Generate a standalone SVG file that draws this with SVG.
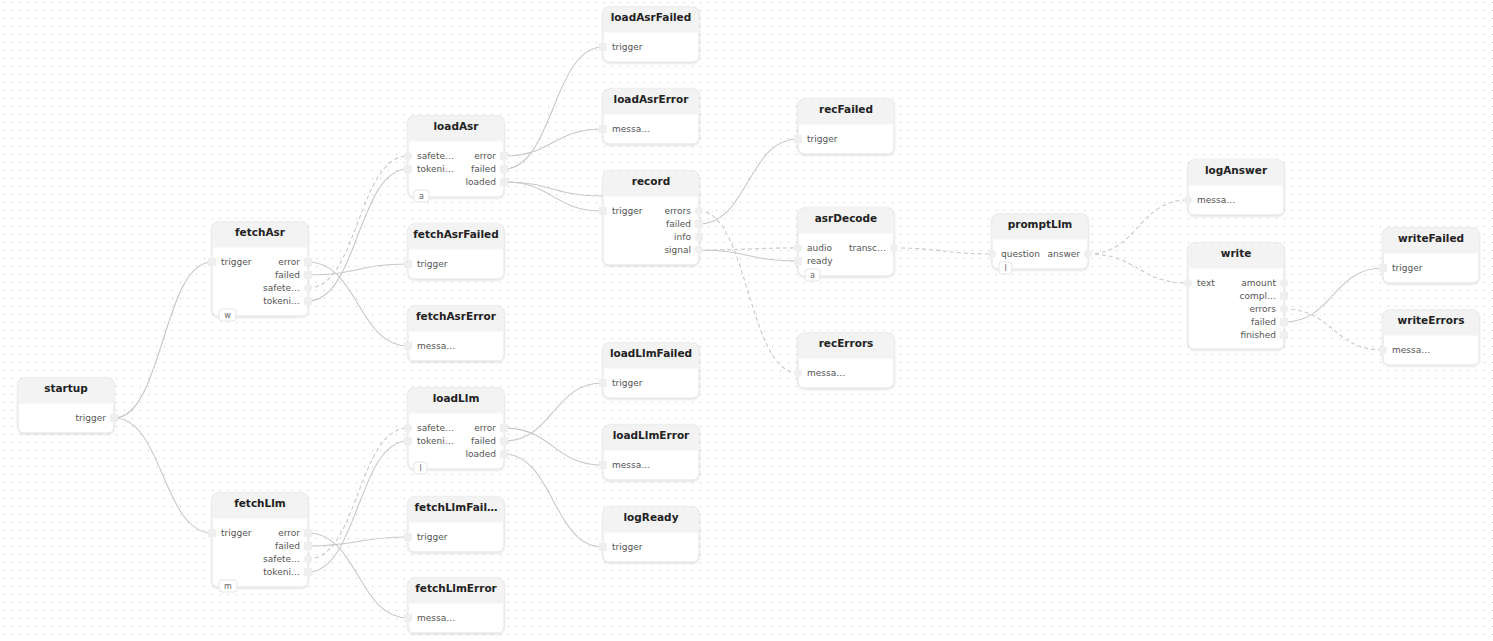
<svg xmlns="http://www.w3.org/2000/svg" width="1493" height="641" viewBox="0 0 1493 641">
<defs>
<pattern id="dots" x="0" y="0" width="8" height="8" patternUnits="userSpaceOnUse">
<rect x="4" y="2" width="1" height="1" fill="#c2c2c2"/>
</pattern>
<filter id="sh" x="-10%" y="-10%" width="120%" height="130%">
<feDropShadow dx="0" dy="1" stdDeviation="1.2" flood-color="#000" flood-opacity="0.13"/>
</filter>
<style>
.box{fill:#fff;stroke:#e2e2e2;stroke-width:1;filter:url(#sh)}
.hdr{fill:#f3f3f3}
.t{font-family:"DejaVu Sans",sans-serif;font-weight:bold;font-size:10.5px;fill:#222;text-anchor:middle}
.ll{font-family:"DejaVu Sans",sans-serif;font-size:9px;fill:#555}
.lr{font-family:"DejaVu Sans",sans-serif;font-size:9px;fill:#555;text-anchor:end}
.p{fill:#efefef}
.bd{fill:#fff;stroke:#e6e6e6;stroke-width:1}
.bt{font-family:"DejaVu Sans",sans-serif;font-size:8px;fill:#666;text-anchor:middle}
.e{fill:none;stroke:#c8c8c8;stroke-width:1.1}
.d{stroke-dasharray:4 3}
</style>
</defs>
<rect width="1493" height="641" fill="#fff"/>
<rect width="1493" height="641" fill="url(#dots)"/>

<g id="connectors">
<path class="e" d="M114,418 C163,418 163,262 212,262"/>
<path class="e" d="M114,418 C163,418 163,533 212,533"/>
<path class="e" d="M308,262 C358,262 358,346 408,346"/>
<path class="e" d="M308,275 C358,275 358,264 408,264"/>
<path class="e d" d="M308,288 C358,288 358,156 408,156"/>
<path class="e" d="M308,301 C358,301 358,169 408,169"/>
<path class="e" d="M308,533 C358,533 358,618 408,618"/>
<path class="e" d="M308,546 C358,546 358,537 408,537"/>
<path class="e d" d="M308,559 C358,559 358,428 408,428"/>
<path class="e" d="M308,572 C358,572 358,441 408,441"/>
<path class="e" d="M504,156 C553,156 553,129 603,129"/>
<path class="e" d="M504,169 C553,169 553,47 603,47"/>
<path class="e" d="M504,182 C553,182 553,211 603,211"/>
<path class="e" d="M504,182 C553,182 553,196 603,196"/>
<path class="e" d="M504,428 C553,428 553,465 603,465"/>
<path class="e" d="M504,441 C553,441 553,383 603,383"/>
<path class="e" d="M504,454 C553,454 553,547 603,547"/>
<path class="e d" d="M699,211 C748,211 748,373 798,373"/>
<path class="e" d="M699,224 C748,224 748,139 798,139"/>
<path class="e d" d="M699,250 C748,250 748,248 798,248"/>
<path class="e" d="M699,250 C748,250 748,261 798,261"/>
<path class="e d" d="M894,248 C943,248 943,254 992,254"/>
<path class="e d" d="M1088,254 C1138,254 1138,200 1188,200"/>
<path class="e d" d="M1088,254 C1138,254 1138,283 1188,283"/>
<path class="e d" d="M1284,309 C1333,309 1333,350 1383,350"/>
<path class="e" d="M1284,322 C1333,322 1333,268 1383,268"/>
</g>

<g id="n-startup" transform="translate(18,378)">
<rect class="box" width="96" height="55" rx="6"/>
<path class="hdr" d="M0.5,25.5 V6 A5.5,5.5 0 0 1 6,0.5 H90 A5.5,5.5 0 0 1 95.5,6 V25.5 Z"/>
<text class="t" x="48" y="14">startup</text>
<rect class="p" x="92" y="36" width="8" height="8"/><text class="lr" x="88" y="43">trigger</text>
</g>

<g id="n-fetchAsr" transform="translate(212,222)">
<rect class="box" width="96" height="94" rx="6"/>
<path class="hdr" d="M0.5,25.5 V6 A5.5,5.5 0 0 1 6,0.5 H90 A5.5,5.5 0 0 1 95.5,6 V25.5 Z"/>
<text class="t" x="48" y="14">fetchAsr</text>
<rect class="p" x="-4" y="36" width="8" height="8"/><text class="ll" x="9" y="43">trigger</text>
<rect class="p" x="92" y="36" width="8" height="8"/><text class="lr" x="88" y="43">error</text>
<rect class="p" x="92" y="49" width="8" height="8"/><text class="lr" x="88" y="56">failed</text>
<circle class="p" cx="96" cy="66" r="4"/><text class="lr" x="88" y="69">safete…</text>
<rect class="p" x="92" y="75" width="8" height="8"/><text class="lr" x="88" y="82">tokeni…</text>
<rect class="bd" x="7" y="87" width="17" height="12" rx="3"/><text class="bt" x="15.5" y="96">w</text>
</g>

<g id="n-fetchLlm" transform="translate(212,493)">
<rect class="box" width="96" height="94" rx="6"/>
<path class="hdr" d="M0.5,25.5 V6 A5.5,5.5 0 0 1 6,0.5 H90 A5.5,5.5 0 0 1 95.5,6 V25.5 Z"/>
<text class="t" x="48" y="14">fetchLlm</text>
<rect class="p" x="-4" y="36" width="8" height="8"/><text class="ll" x="9" y="43">trigger</text>
<rect class="p" x="92" y="36" width="8" height="8"/><text class="lr" x="88" y="43">error</text>
<rect class="p" x="92" y="49" width="8" height="8"/><text class="lr" x="88" y="56">failed</text>
<circle class="p" cx="96" cy="66" r="4"/><text class="lr" x="88" y="69">safete…</text>
<rect class="p" x="92" y="75" width="8" height="8"/><text class="lr" x="88" y="82">tokeni…</text>
<rect class="bd" x="7" y="87" width="18" height="12" rx="3"/><text class="bt" x="16" y="96">m</text>
</g>

<g id="n-loadAsr" transform="translate(408,116)">
<rect class="box" width="96" height="81" rx="6"/>
<path class="hdr" d="M0.5,25.5 V6 A5.5,5.5 0 0 1 6,0.5 H90 A5.5,5.5 0 0 1 95.5,6 V25.5 Z"/>
<text class="t" x="48" y="14">loadAsr</text>
<circle class="p" cx="0" cy="40" r="4"/><text class="ll" x="9" y="43">safete…</text>
<rect class="p" x="-4" y="49" width="8" height="8"/><text class="ll" x="9" y="56">tokeni…</text>
<rect class="p" x="92" y="36" width="8" height="8"/><text class="lr" x="88" y="43">error</text>
<rect class="p" x="92" y="49" width="8" height="8"/><text class="lr" x="88" y="56">failed</text>
<rect class="p" x="92" y="62" width="8" height="8"/><text class="lr" x="88" y="69">loaded</text>
<rect class="bd" x="6" y="74" width="15" height="12" rx="3"/><text class="bt" x="13.5" y="83">a</text>
</g>

<g id="n-fetchAsrFailed" transform="translate(408,224)">
<rect class="box" width="96" height="55" rx="6"/>
<path class="hdr" d="M0.5,25.5 V6 A5.5,5.5 0 0 1 6,0.5 H90 A5.5,5.5 0 0 1 95.5,6 V25.5 Z"/>
<text class="t" x="48" y="14">fetchAsrFailed</text>
<rect class="p" x="-4" y="36" width="8" height="8"/><text class="ll" x="9" y="43">trigger</text>
</g>

<g id="n-fetchAsrError" transform="translate(408,306)">
<rect class="box" width="96" height="55" rx="6"/>
<path class="hdr" d="M0.5,25.5 V6 A5.5,5.5 0 0 1 6,0.5 H90 A5.5,5.5 0 0 1 95.5,6 V25.5 Z"/>
<text class="t" x="48" y="14">fetchAsrError</text>
<rect class="p" x="-4" y="36" width="8" height="8"/><text class="ll" x="9" y="43">messa…</text>
</g>

<g id="n-loadLlm" transform="translate(408,388)">
<rect class="box" width="96" height="81" rx="6"/>
<path class="hdr" d="M0.5,25.5 V6 A5.5,5.5 0 0 1 6,0.5 H90 A5.5,5.5 0 0 1 95.5,6 V25.5 Z"/>
<text class="t" x="48" y="14">loadLlm</text>
<circle class="p" cx="0" cy="40" r="4"/><text class="ll" x="9" y="43">safete…</text>
<rect class="p" x="-4" y="49" width="8" height="8"/><text class="ll" x="9" y="56">tokeni…</text>
<rect class="p" x="92" y="36" width="8" height="8"/><text class="lr" x="88" y="43">error</text>
<rect class="p" x="92" y="49" width="8" height="8"/><text class="lr" x="88" y="56">failed</text>
<rect class="p" x="92" y="62" width="8" height="8"/><text class="lr" x="88" y="69">loaded</text>
<rect class="bd" x="6" y="74" width="13" height="12" rx="3"/><text class="bt" x="12.5" y="83">l</text>
</g>

<g id="n-fetchLlmFailed" transform="translate(408,497)">
<rect class="box" width="96" height="55" rx="6"/>
<path class="hdr" d="M0.5,25.5 V6 A5.5,5.5 0 0 1 6,0.5 H90 A5.5,5.5 0 0 1 95.5,6 V25.5 Z"/>
<text class="t" x="48" y="14">fetchLlmFail…</text>
<rect class="p" x="-4" y="36" width="8" height="8"/><text class="ll" x="9" y="43">trigger</text>
</g>

<g id="n-fetchLlmError" transform="translate(408,578)">
<rect class="box" width="96" height="55" rx="6"/>
<path class="hdr" d="M0.5,25.5 V6 A5.5,5.5 0 0 1 6,0.5 H90 A5.5,5.5 0 0 1 95.5,6 V25.5 Z"/>
<text class="t" x="48" y="14">fetchLlmError</text>
<rect class="p" x="-4" y="36" width="8" height="8"/><text class="ll" x="9" y="43">messa…</text>
</g>

<g id="n-loadAsrFailed" transform="translate(603,7)">
<rect class="box" width="96" height="55" rx="6"/>
<path class="hdr" d="M0.5,25.5 V6 A5.5,5.5 0 0 1 6,0.5 H90 A5.5,5.5 0 0 1 95.5,6 V25.5 Z"/>
<text class="t" x="48" y="14">loadAsrFailed</text>
<rect class="p" x="-4" y="36" width="8" height="8"/><text class="ll" x="9" y="43">trigger</text>
</g>

<g id="n-loadAsrError" transform="translate(603,89)">
<rect class="box" width="96" height="55" rx="6"/>
<path class="hdr" d="M0.5,25.5 V6 A5.5,5.5 0 0 1 6,0.5 H90 A5.5,5.5 0 0 1 95.5,6 V25.5 Z"/>
<text class="t" x="48" y="14">loadAsrError</text>
<rect class="p" x="-4" y="36" width="8" height="8"/><text class="ll" x="9" y="43">messa…</text>
</g>

<g id="n-record" transform="translate(603,171)">
<rect class="box" width="96" height="94" rx="6"/>
<path class="hdr" d="M0.5,25.5 V6 A5.5,5.5 0 0 1 6,0.5 H90 A5.5,5.5 0 0 1 95.5,6 V25.5 Z"/>
<text class="t" x="48" y="14">record</text>
<rect class="p" x="-4" y="36" width="8" height="8"/><text class="ll" x="9" y="43">trigger</text>
<circle class="p" cx="96" cy="40" r="4"/><text class="lr" x="88" y="43">errors</text>
<rect class="p" x="92" y="49" width="8" height="8"/><text class="lr" x="88" y="56">failed</text>
<rect class="p" x="92" y="62" width="8" height="8"/><text class="lr" x="88" y="69">info</text>
<circle class="p" cx="96" cy="79" r="4"/><text class="lr" x="88" y="82">signal</text>
</g>

<g id="n-loadLlmFailed" transform="translate(603,343)">
<rect class="box" width="96" height="55" rx="6"/>
<path class="hdr" d="M0.5,25.5 V6 A5.5,5.5 0 0 1 6,0.5 H90 A5.5,5.5 0 0 1 95.5,6 V25.5 Z"/>
<text class="t" x="48" y="14">loadLlmFailed</text>
<rect class="p" x="-4" y="36" width="8" height="8"/><text class="ll" x="9" y="43">trigger</text>
</g>

<g id="n-loadLlmError" transform="translate(603,425)">
<rect class="box" width="96" height="55" rx="6"/>
<path class="hdr" d="M0.5,25.5 V6 A5.5,5.5 0 0 1 6,0.5 H90 A5.5,5.5 0 0 1 95.5,6 V25.5 Z"/>
<text class="t" x="48" y="14">loadLlmError</text>
<rect class="p" x="-4" y="36" width="8" height="8"/><text class="ll" x="9" y="43">messa…</text>
</g>

<g id="n-logReady" transform="translate(603,507)">
<rect class="box" width="96" height="55" rx="6"/>
<path class="hdr" d="M0.5,25.5 V6 A5.5,5.5 0 0 1 6,0.5 H90 A5.5,5.5 0 0 1 95.5,6 V25.5 Z"/>
<text class="t" x="48" y="14">logReady</text>
<rect class="p" x="-4" y="36" width="8" height="8"/><text class="ll" x="9" y="43">trigger</text>
</g>

<g id="n-recFailed" transform="translate(798,99)">
<rect class="box" width="96" height="55" rx="6"/>
<path class="hdr" d="M0.5,25.5 V6 A5.5,5.5 0 0 1 6,0.5 H90 A5.5,5.5 0 0 1 95.5,6 V25.5 Z"/>
<text class="t" x="48" y="14">recFailed</text>
<rect class="p" x="-4" y="36" width="8" height="8"/><text class="ll" x="9" y="43">trigger</text>
</g>

<g id="n-asrDecode" transform="translate(798,208)">
<rect class="box" width="96" height="68" rx="6"/>
<path class="hdr" d="M0.5,25.5 V6 A5.5,5.5 0 0 1 6,0.5 H90 A5.5,5.5 0 0 1 95.5,6 V25.5 Z"/>
<text class="t" x="48" y="14">asrDecode</text>
<circle class="p" cx="0" cy="40" r="4"/><text class="ll" x="9" y="43">audio</text>
<rect class="p" x="-4" y="49" width="8" height="8"/><text class="ll" x="9" y="56">ready</text>
<circle class="p" cx="96" cy="40" r="4"/><text class="lr" x="88" y="43">transc…</text>
<rect class="bd" x="7" y="61" width="15" height="12" rx="3"/><text class="bt" x="14.5" y="70">a</text>
</g>

<g id="n-recErrors" transform="translate(798,333)">
<rect class="box" width="96" height="55" rx="6"/>
<path class="hdr" d="M0.5,25.5 V6 A5.5,5.5 0 0 1 6,0.5 H90 A5.5,5.5 0 0 1 95.5,6 V25.5 Z"/>
<text class="t" x="48" y="14">recErrors</text>
<circle class="p" cx="0" cy="40" r="4"/><text class="ll" x="9" y="43">messa…</text>
</g>

<g id="n-promptLlm" transform="translate(992,214)">
<rect class="box" width="96" height="55" rx="6"/>
<path class="hdr" d="M0.5,25.5 V6 A5.5,5.5 0 0 1 6,0.5 H90 A5.5,5.5 0 0 1 95.5,6 V25.5 Z"/>
<text class="t" x="48" y="14">promptLlm</text>
<circle class="p" cx="0" cy="40" r="4"/><text class="ll" x="9" y="43">question</text>
<circle class="p" cx="96" cy="40" r="4"/><text class="lr" x="88" y="43">answer</text>
<rect class="bd" x="7" y="48" width="13" height="12" rx="3"/><text class="bt" x="13.5" y="57">l</text>
</g>

<g id="n-logAnswer" transform="translate(1188,160)">
<rect class="box" width="96" height="55" rx="6"/>
<path class="hdr" d="M0.5,25.5 V6 A5.5,5.5 0 0 1 6,0.5 H90 A5.5,5.5 0 0 1 95.5,6 V25.5 Z"/>
<text class="t" x="48" y="14">logAnswer</text>
<circle class="p" cx="0" cy="40" r="4"/><text class="ll" x="9" y="43">messa…</text>
</g>

<g id="n-write" transform="translate(1188,243)">
<rect class="box" width="96" height="106" rx="6"/>
<path class="hdr" d="M0.5,25.5 V6 A5.5,5.5 0 0 1 6,0.5 H90 A5.5,5.5 0 0 1 95.5,6 V25.5 Z"/>
<text class="t" x="48" y="14">write</text>
<circle class="p" cx="0" cy="40" r="4"/><text class="ll" x="9" y="43">text</text>
<circle class="p" cx="96" cy="40" r="4"/><text class="lr" x="88" y="43">amount</text>
<rect class="p" x="92" y="49" width="8" height="8"/><text class="lr" x="88" y="56">compl…</text>
<circle class="p" cx="96" cy="66" r="4"/><text class="lr" x="88" y="69">errors</text>
<rect class="p" x="92" y="75" width="8" height="8"/><text class="lr" x="88" y="82">failed</text>
<rect class="p" x="92" y="88" width="8" height="8"/><text class="lr" x="88" y="95">finished</text>
</g>

<g id="n-writeFailed" transform="translate(1383,228)">
<rect class="box" width="96" height="55" rx="6"/>
<path class="hdr" d="M0.5,25.5 V6 A5.5,5.5 0 0 1 6,0.5 H90 A5.5,5.5 0 0 1 95.5,6 V25.5 Z"/>
<text class="t" x="48" y="14">writeFailed</text>
<rect class="p" x="-4" y="36" width="8" height="8"/><text class="ll" x="9" y="43">trigger</text>
</g>

<g id="n-writeErrors" transform="translate(1383,310)">
<rect class="box" width="96" height="55" rx="6"/>
<path class="hdr" d="M0.5,25.5 V6 A5.5,5.5 0 0 1 6,0.5 H90 A5.5,5.5 0 0 1 95.5,6 V25.5 Z"/>
<text class="t" x="48" y="14">writeErrors</text>
<circle class="p" cx="0" cy="40" r="4"/><text class="ll" x="9" y="43">messa…</text>
</g>
</svg>
